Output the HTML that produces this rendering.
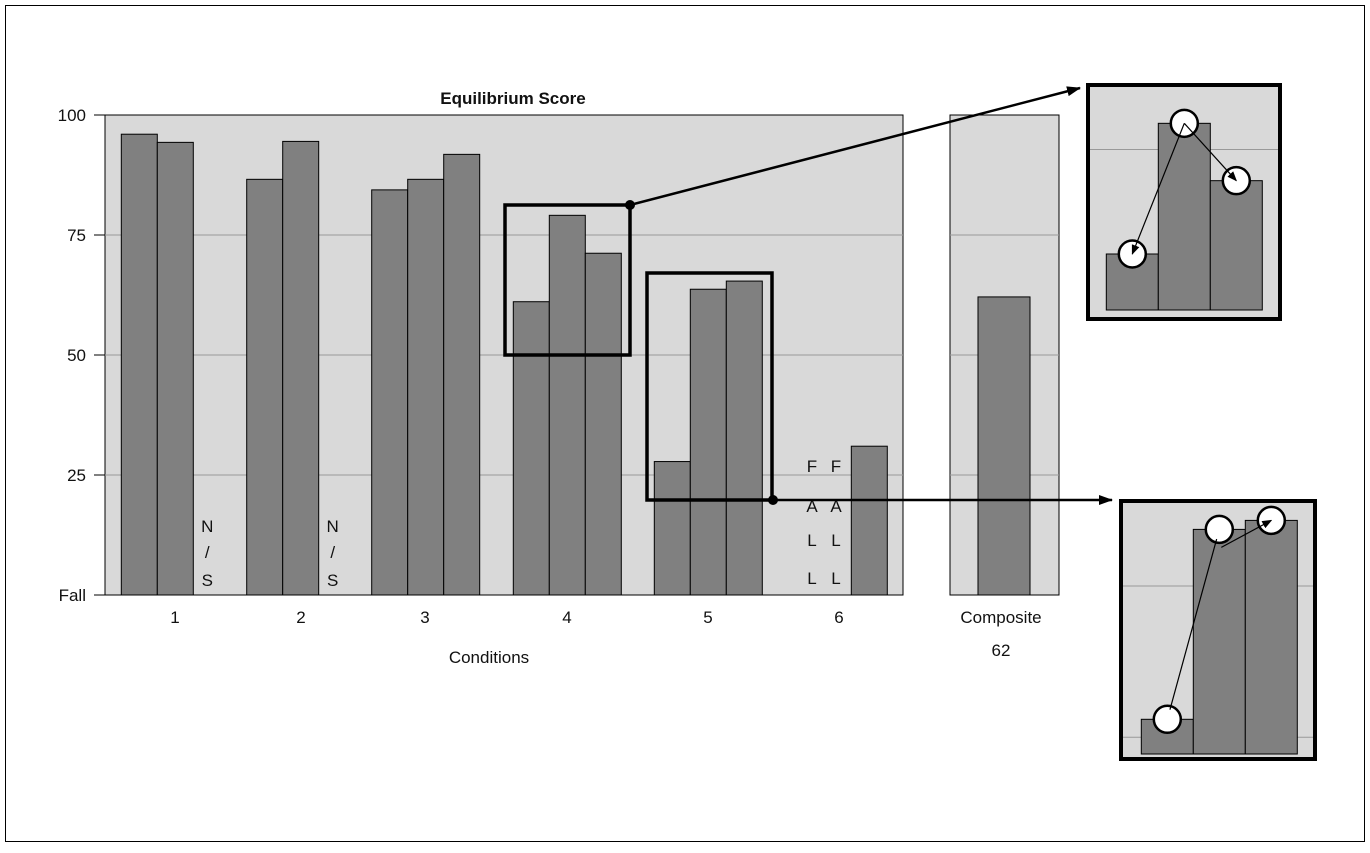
<!DOCTYPE html>
<html><head><meta charset="utf-8"><style>
body{margin:0;background:#fff}
svg text{font-family:"Liberation Sans",sans-serif;fill:#111}
</style></head><body>
<svg id="c" width="1370" height="848" viewBox="0 0 1370 848">
<defs><marker id="ah" markerWidth="10" markerHeight="8" refX="9" refY="4" orient="auto" markerUnits="userSpaceOnUse"><path d="M0,0 L10,4 L0,8 z" fill="#000"/></marker>
<marker id="ahs" markerWidth="14" markerHeight="10" refX="13" refY="5" orient="auto" markerUnits="userSpaceOnUse"><path d="M0,0 L14,5 L0,10 z" fill="#000"/></marker></defs>
<rect x="5.5" y="5.5" width="1359" height="836" fill="none" stroke="#000"/>
<g id="g"></g>
</svg>
<script>
const categories=["1","2","3","4","5","6"];
const trial1=[96.0,86.6,84.4,61.1,27.8,null];
const trial2=[94.3,94.5,86.6,79.1,63.7,null];
const trial3=[null,null,91.8,71.2,65.4,31.0];
const compositeValue=62.1;
const yTicks=[0,25,50,75,100];
const yTickLabels=["Fall","25","50","75","100"];
const inset1Values=[61.1,79.1,71.2];
const inset2Values=[27.8,63.7,65.4];
const NS="http://www.w3.org/2000/svg";
const g=document.getElementById('g');
function mk(t,a,p){const e=document.createElementNS(NS,t);for(const k in a)e.setAttribute(k,a[k]);(p||g).appendChild(e);return e;}
function y(v){return 595-v*4.8;}
const groupX=[121.3,246.7,371.7,513.3,654.3,779.3];
const labelX=[175,301,425,567,708,839];
const bw=36;
let e=mk('rect',{x:105,y:115,width:798,height:480,fill:'#d9d9d9',stroke:'#000','stroke-width':1});

e=mk('rect',{x:950,y:115,width:109,height:480,fill:'#d9d9d9',stroke:'#000','stroke-width':1});

yTicks.forEach((t,i)=>{
 if(t>0&&t<100){e=mk('line',{x1:105,x2:903,y1:y(t),y2:y(t),stroke:'#999'});
 
 e=mk('line',{x1:950,x2:1059,y1:y(t),y2:y(t),stroke:'#999'});
 }
 e=mk('line',{x1:94,x2:105,y1:y(t),y2:y(t),stroke:'#000'});
 
 e=mk('text',{x:86,y:y(t)+6,'text-anchor':'end','font-size':17});e.textContent=yTickLabels[i];
 
});
function bar(x,v,w,name){const b=mk('rect',{x:x,y:y(v),width:w,height:595-y(v),fill:'#808080',stroke:'#000','stroke-width':1});
 }
function vtext(x,ys,letters,name){letters.forEach((l,i)=>{const t=mk('text',{x:x,y:ys[i],'text-anchor':'middle','font-size':17});t.textContent=l;
 });}
categories.forEach((c,i)=>{
 [trial1,trial2,trial3].forEach((s,j)=>{
  const x=groupX[i]+j*bw;
  if(s[i]!=null)bar(x,s[i],bw,'bar-c'+c+'-t'+(j+1));
  else if(i<2)vtext(x+14,[532,558,586],['N','/','S'],'not-scored-label');
  else vtext(812+j*24,[472,512,546,584],['F','A','L','L'],'fall-label');
 });
 e=mk('text',{x:labelX[i],y:623,'text-anchor':'middle','font-size':17});e.textContent=c;
 
});
bar(978,compositeValue,52,'composite-bar');
e=mk('text',{x:513,y:104,'text-anchor':'middle','font-size':17,'font-weight':'bold'});e.textContent='Equilibrium Score';

e=mk('text',{x:489,y:663,'text-anchor':'middle','font-size':17});e.textContent='Conditions';

e=mk('text',{x:1001,y:623,'text-anchor':'middle','font-size':17});e.textContent='Composite';

e=mk('text',{x:1001,y:656,'text-anchor':'middle','font-size':17});e.textContent=String(Math.round(compositeValue));

e=mk('rect',{x:505,y:205,width:125,height:150,fill:'none',stroke:'#000','stroke-width':3.5});

e=mk('rect',{x:647,y:273,width:125,height:227,fill:'none',stroke:'#000','stroke-width':3.5});

e=mk('line',{x1:630,y1:205,x2:1080,y2:88,stroke:'#000','stroke-width':2.5,'marker-end':'url(#ahs)'});

e=mk('line',{x1:773,y1:500,x2:1112,y2:500,stroke:'#000','stroke-width':2.5,'marker-end':'url(#ahs)'});

[[630,205],[773,500]].forEach(p=>{e=mk('circle',{cx:p[0],cy:p[1],r:5,fill:'#000'});
 });
function inset(bx,by,bwid,bh,barX0,base,refV,refY,scale,vals,grids,name,arrowMode){
 const iy=v=>refY-(v-refV)*scale;
 e=mk('rect',{x:bx,y:by,width:bwid,height:bh,fill:'#d9d9d9',stroke:'#000','stroke-width':4});
 
 grids.forEach(gv=>{e=mk('line',{x1:bx+2,x2:bx+bwid-2,y1:iy(gv),y2:iy(gv),stroke:'#999'});
  });
 const pts=[];
 vals.forEach((v,i)=>{const x=barX0+i*52;
  e=mk('rect',{x:x,y:iy(v),width:52,height:base-iy(v),fill:'#808080',stroke:'#000'});
  
  pts.push([x+26,iy(v)]);});
 pts.forEach(p=>{e=mk('circle',{cx:p[0],cy:p[1],r:13.5,fill:'#fff',stroke:'#000','stroke-width':2.5});
  });
 const ln=(a,b,arrow)=>{const dx=b[0]-a[0],dy=b[1]-a[1],L=Math.hypot(dx,dy);
  const s=arrow?[a[0],a[1]]:[a[0]+dx/L*10,a[1]+dy/L*10];
  const t=[b[0]-dx/L*(arrow?0:10),b[1]-dy/L*(arrow?0:10)];
  const o={x1:s[0],y1:s[1],x2:t[0],y2:t[1],stroke:'#000','stroke-width':1.2};if(arrow)o['marker-end']='url(#ah)';
  e=mk('line',o);};
 if(arrowMode==1){ln(pts[1],pts[0],true);ln(pts[1],pts[2],true);}
 else{ln(pts[0],pts[1],false);ln([pts[1][0]+2,pts[1][1]+18],pts[2],true);}
}
inset(1088,85,192,234,1106.3,310,61.1,254,7.26,inset1Values,[75.5],'inset-c4',1);
inset(1121,501,194,258,1141.3,754,27.8,719.3,5.29,inset2Values,[24.4,53],'inset-c5',2);
</script>
</body></html>
